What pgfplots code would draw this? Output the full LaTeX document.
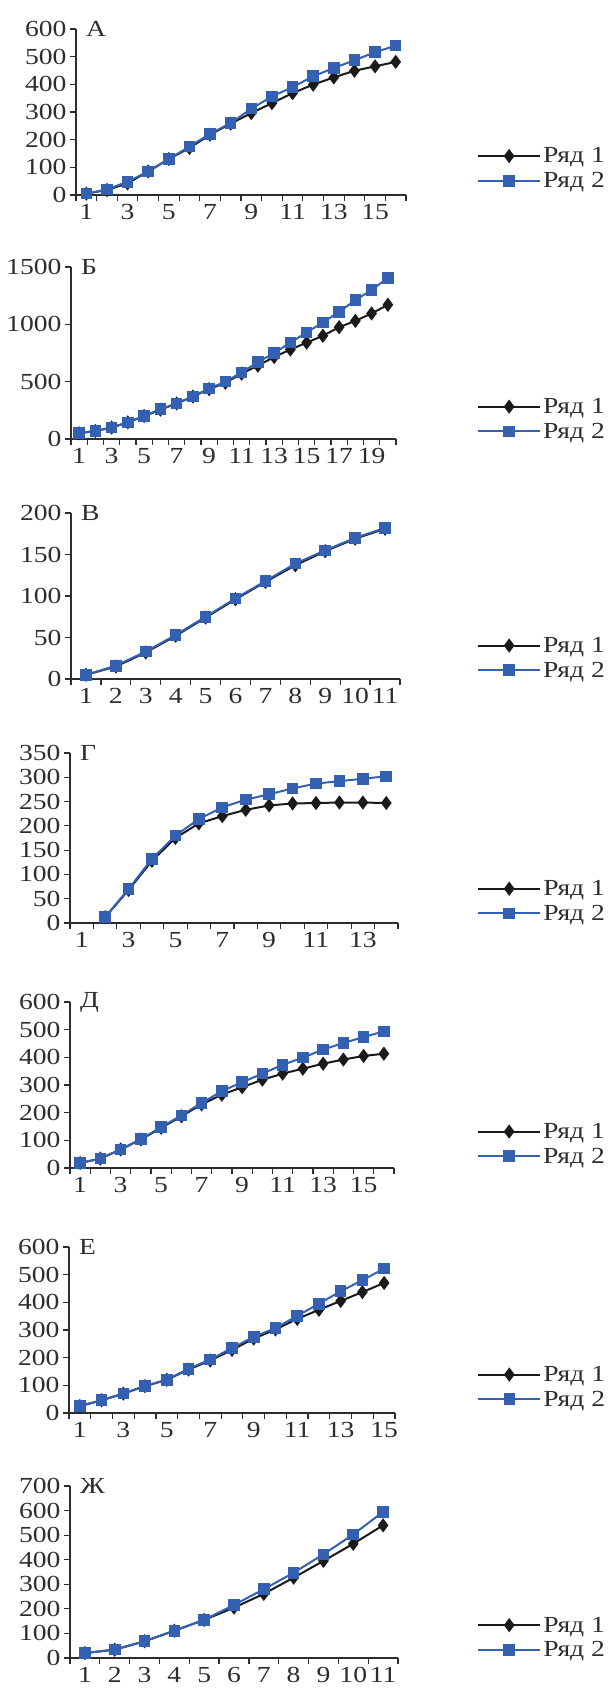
\documentclass[border=0pt]{standalone}
\usepackage{fontspec}
\setmainfont{Liberation Serif}
\usepackage{graphicx}
\usepackage{pgfplots}
\pgfplotsset{compat=1.18}
\definecolor{sblue}{RGB}{52,96,178}
\definecolor{sblack}{RGB}{26,26,26}
\definecolor{txt}{RGB}{45,45,45}
\newcommand{\sx}[1]{\scalebox{1.2}[1]{#1}}
\newcommand{\bigf}{\fontsize{23}{26}\selectfont}
\pgfplotsset{
 panel/.style={
  scale only axis, clip=false,
  axis lines*=left,
  axis line style={draw=txt, line width=1.2pt},
  tick align=outside,
  major tick length=6pt, minor tick length=6pt,
  every tick/.style={draw=txt, line width=1.2pt},
  xmin=0.5, xmax=#1+0.5,
  ymin=0,
  minor xtick={0.5,1.5,...,#1.5},
  every major x tick/.append style={draw=none},
  tick label style={font=\bigf, text=txt},
  xticklabel={\sx{\pgfmathprintnumber{\tick}}},
  yticklabel={\sx{\pgfmathprintnumber{\tick}}},
  /pgf/number format/assume math mode=true,
  /pgf/number format/1000 sep={},
  scaled y ticks=false,
  legend style={draw=none, fill=none, inner sep=0pt, anchor=west, font=\bigf, text=txt, row sep=4pt},
  legend cell align=left,
  legend image code/.code={\draw[mark repeat=2,mark phase=2,##1] plot coordinates {(0pt,0pt) (31pt,0pt) (62pt,0pt)};},
 },
 s1/.style={sblack, line width=2pt, mark=diamond*, mark size=5.5pt, mark options={solid, fill=sblack}},
 s2/.style={sblue, line width=2pt, mark=square*, mark size=4.8pt, mark options={solid, fill=sblue}},
}
\newcommand{\ptitle}[1]{\node[anchor=west, font=\bigf, text=txt, inner sep=0pt, xshift=10pt] at (rel axis cs:0,1) {\sx{#1}};}
\begin{document}
\begin{tikzpicture}
\path[use as bounding box] (0,0) rectangle (612pt,1692pt);

% A
\begin{axis}[panel=16, at={(76pt,1497pt)}, anchor=south west, width=330pt, height=166pt,
  ymax=600, ytick={0,100,...,600}, xtick={1,3,...,15},
  legend style={at={(1.215,0.16)}}]
\addplot[s1] coordinates {(1,5)(2,18)(3,42)(4,85)(5,130)(6,170)(7,218)(8,258)(9,296)(10,332)(11,368)(12,399)(13,425)(14,449)(15,465)(16,481)};
\addplot[s2] coordinates {(1,5)(2,20)(3,48)(4,85)(5,130)(6,175)(7,221)(8,260)(9,312)(10,356)(11,390)(12,429)(13,459)(14,487)(15,516)(16,540)};
\legend{\sx{Ряд 1},\sx{Ряд 2}}
\ptitle{А}
\end{axis}

% B
\begin{axis}[panel=20, at={(71pt,1253pt)}, anchor=south west, width=325pt, height=172pt,
  ymax=1500, ytick={0,500,1000,1500}, xtick={1,3,...,19},
  legend style={at={(1.249,0.116)}}]
\addplot[s1] coordinates {(1,50)(2,70)(3,100)(4,145)(5,200)(6,255)(7,310)(8,370)(9,435)(10,490)(11,570)(12,640)(13,715)(14,780)(15,840)(16,900)(17,975)(18,1030)(19,1095)(20,1170)};
\addplot[s2] coordinates {(1,50)(2,70)(3,100)(4,145)(5,200)(6,260)(7,310)(8,370)(9,440)(10,500)(11,580)(12,670)(13,750)(14,840)(15,930)(16,1015)(17,1110)(18,1210)(19,1300)(20,1405)};
\legend{\sx{Ряд 1},\sx{Ряд 2}}
\ptitle{Б}
\end{axis}

% V
\begin{axis}[panel=11, at={(71pt,1013pt)}, anchor=south west, width=329pt, height=166pt,
  ymax=200, ytick={0,50,...,200}, xtick={1,2,...,11},
  legend style={at={(1.234,0.127)}}]
\addplot[s1] coordinates {(1,5)(2,15)(3,32)(4,52)(5,74)(6,96)(7,117)(8,137)(9,154)(10,169)(11,181)};
\addplot[s2] coordinates {(1,5)(2,16)(3,33)(4,53)(5,75)(6,97)(7,118)(8,139)(9,155)(10,170)(11,182)};
\legend{\sx{Ряд 1},\sx{Ряд 2}}
\ptitle{В}
\end{axis}

% G
\begin{axis}[panel=14, at={(70pt,769pt)}, anchor=south west, width=328pt, height=170pt,
  ymax=350, ytick={0,50,...,350}, xtick={1,3,...,13},
  legend style={at={(1.241,0.129)}}]
\addplot[s1] coordinates {(2,12)(3,68)(4,128)(5,175)(6,205)(7,220)(8,233)(9,242)(10,246)(11,247)(12,248)(13,248)(14,247)};
\addplot[s2] coordinates {(2,12)(3,70)(4,132)(5,180)(6,214)(7,238)(8,254)(9,265)(10,277)(11,287)(12,292)(13,297)(14,302)};
\legend{\sx{Ряд 1},\sx{Ряд 2}}
\ptitle{Г}
\end{axis}

% D
\begin{axis}[panel=16, at={(70pt,524pt)}, anchor=south west, width=324pt, height=166pt,
  ymax=600, ytick={0,100,...,600}, xtick={1,3,...,15},
  legend style={at={(1.256,0.145)}}]
\addplot[s1] coordinates {(1,18)(2,34)(3,67)(4,103)(5,145)(6,187)(7,230)(8,265)(9,292)(10,319)(11,341)(12,359)(13,377)(14,392)(15,405)(16,413)};
\addplot[s2] coordinates {(1,18)(2,34)(3,67)(4,104)(5,148)(6,190)(7,235)(8,278)(9,310)(10,341)(11,373)(12,399)(13,428)(14,452)(15,473)(16,494)};
\legend{\sx{Ряд 1},\sx{Ряд 2}}
\ptitle{Д}
\end{axis}

% E
\begin{axis}[panel=15, at={(69pt,279pt)}, anchor=south west, width=326pt, height=166pt,
  ymax=600, ytick={0,100,...,600}, xtick={1,3,...,15},
  legend style={at={(1.252,0.157)}}]
\addplot[s1] coordinates {(1,25)(2,46)(3,70)(4,97)(5,120)(6,157)(7,190)(8,228)(9,269)(10,302)(11,340)(12,373)(13,405)(14,437)(15,470)};
\addplot[s2] coordinates {(1,25)(2,46)(3,70)(4,98)(5,120)(6,160)(7,193)(8,235)(9,275)(10,307)(11,351)(12,395)(13,440)(14,480)(15,522)};
\legend{\sx{Ряд 1},\sx{Ряд 2}}
\ptitle{Е}
\end{axis}

% Zh
\begin{axis}[panel=11, at={(70pt,34pt)}, anchor=south west, width=328pt, height=172pt,
  ymax=700, ytick={0,100,...,700}, xtick={1,2,...,11},
  legend style={at={(1.241,0.119)}}]
\addplot[s1] coordinates {(1,20)(2,34)(3,68)(4,111)(5,155)(6,205)(7,261)(8,327)(9,395)(10,465)(11,540)};
\addplot[s2] coordinates {(1,20)(2,34)(3,68)(4,111)(5,155)(6,216)(7,280)(8,347)(9,422)(10,503)(11,595)};
\legend{\sx{Ряд 1},\sx{Ряд 2}}
\ptitle{Ж}
\end{axis}
\end{tikzpicture}
\end{document}
